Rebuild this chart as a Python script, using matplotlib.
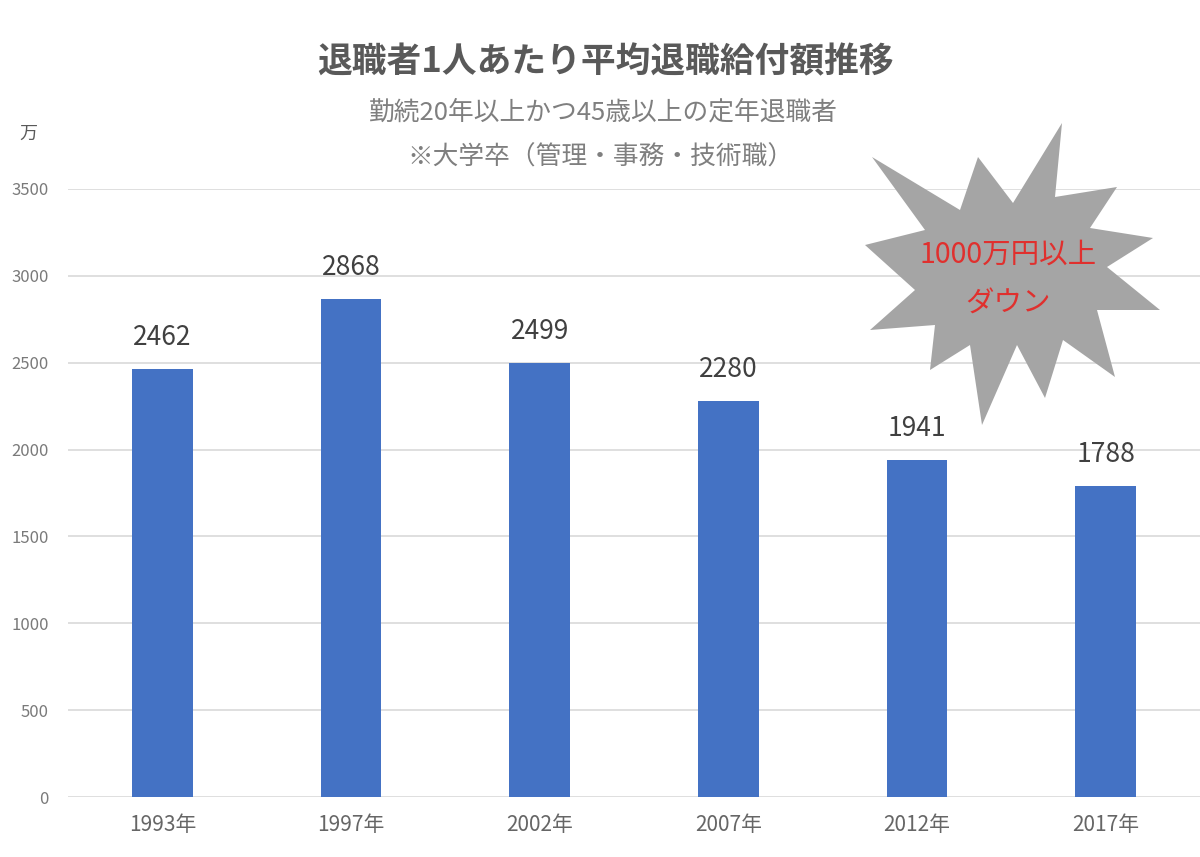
import matplotlib.pyplot as plt
from matplotlib.patches import Polygon

plt.rcParams['font.family'] = ['Noto Sans CJK JP', 'DejaVu Sans']

years = ['1993年', '1997年', '2002年', '2007年', '2012年', '2017年']
amounts = [2462, 2868, 2499, 2280, 1941, 1788]
yticks = [0, 500, 1000, 1500, 2000, 2500, 3000, 3500]

W, H = 1200, 857
fig = plt.figure(figsize=(12, 8.57), dpi=100)
ax = fig.add_axes([68 / W, 60 / H, 1132 / W, 608 / H])

x = range(len(years))
bars = ax.bar(x, amounts, width=0.32, color='#4472c4', zorder=3)

ax.set_xlim(-0.5, len(years) - 0.5)
ax.set_ylim(0, 3500)
ax.set_yticks(yticks)
ax.set_xticks(list(x))
ax.set_xticklabels(years)
ax.grid(axis='y', color='#d9d9d9', linewidth=1.2, zorder=0)
for s in ax.spines.values():
    s.set_visible(False)
ax.tick_params(axis='y', length=0, pad=14, labelsize=12, labelcolor='#7a7a7a')
ax.tick_params(axis='x', length=0, pad=12, labelsize=15, labelcolor='#666666')

# value labels above bars
for bar in bars:
    h = bar.get_height()
    ax.annotate(f'{h:.0f}', (bar.get_x() + bar.get_width() / 2, h),
                xytext=(0, 13), textcoords='offset points',
                ha='center', va='bottom', fontsize=19, color='#404040')

# titles
fig.text(0.505, 1 - 62 / H, '退職者1人あたり平均退職給付額推移', ha='center', va='center',
         fontsize=25, fontweight='bold', color='#595959')
fig.text(0.503, 1 - 113 / H, '勤続20年以上かつ45歳以上の定年退職者', ha='center', va='center',
         fontsize=18.5, color='#7f7f7f')
fig.text(0.5, 1 - 158 / H, '※大学卒（管理・事務・技術職）', ha='center', va='center',
         fontsize=18.5, color='#7f7f7f')
fig.text(28 / W, 1 - 134 / H, '万', ha='center', va='center', fontsize=13, color='#595959')

# starburst callout
star = [(872, 157), (960, 210), (978, 157), (1013, 203), (1062, 123), (1055, 197),
        (1117, 187), (1090, 228), (1153, 238), (1107, 267), (1160, 310), (1097, 310),
        (1115, 377), (1063, 340), (1045, 398), (1017, 345), (982, 425), (970, 345),
        (930, 370), (935, 325), (870, 330), (915, 290), (865, 245), (925, 230)]
star = [(px / W, 1 - py / H) for px, py in star]
fig.patches.append(Polygon(star, closed=True, transform=fig.transFigure,
                           facecolor='#a5a5a5', edgecolor='none', zorder=5))
fig.text(1008 / W, 1 - 255 / H, '1000万円以上', ha='center', va='center',
         fontsize=20.5, color='#e0302e', zorder=6)
fig.text(1008 / W, 1 - 304 / H, 'ダウン', ha='center', va='center',
         fontsize=20.5, color='#e0302e', zorder=6)

fig.savefig('out.png', dpi=100)
